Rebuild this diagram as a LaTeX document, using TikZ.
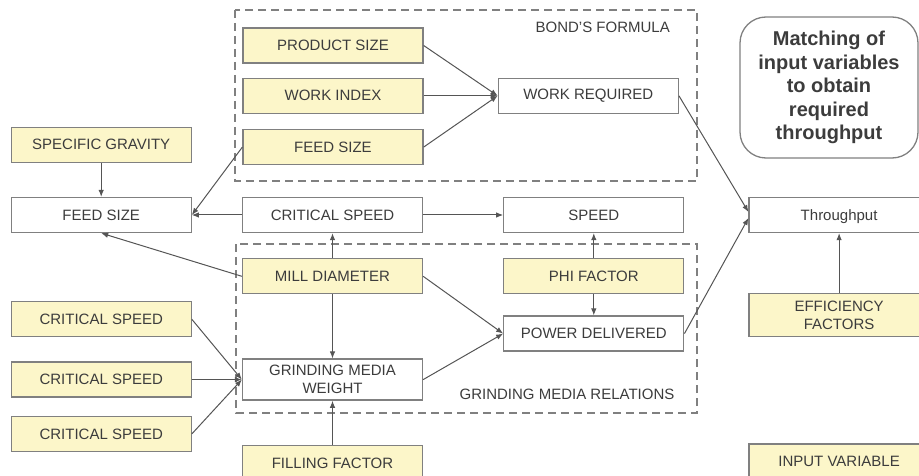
\documentclass[tikz,border=0pt]{standalone}
\usepackage{fontspec}
\setmainfont{Liberation Sans}
\usetikzlibrary{arrows.meta,positioning}
\definecolor{varfill}{RGB}{252,246,201}
\definecolor{boxline}{RGB}{128,128,128}
\definecolor{textgray}{RGB}{60,60,60}
\definecolor{linegray}{RGB}{85,85,85}
\tikzset{
    invar/.style={rectangle,draw=boxline,fill=varfill,line width=1.3pt,minimum width=180pt,minimum height=35pt,inner sep=0pt,align=center,text=textgray,font=\fontsize{15}{18}\selectfont},
    calc/.style={invar,fill=white},
    pre/.style={-{Latex[length=7pt,width=5.5pt]},line width=1pt,draw=linegray},
    frame/.style={draw=boxline,line width=1.2pt,dash pattern=on 8pt off 5pt},
    framelabel/.style={text=textgray,font=\fontsize{15}{18}\selectfont,inner sep=0pt}
}

\begin{document}
\begin{tikzpicture}[x=1pt,y=-1pt]
                \useasboundingbox (0,0) rectangle (919,476);

                % dashed groups
                \draw[frame] (235,10) rectangle (697,181);
                \draw[frame] (236,244) rectangle (697,413);
                \node[framelabel,anchor=east] (bondlbl) at (670,27) {BOND'S FORMULA};
                \node[framelabel] (gmrlbl) at (567,394) {GRINDING MEDIA RELATIONS};

                \node[invar]  (prod) at (333,45.5)              {PRODUCT SIZE};
                \node[invar]  (workidx) [below=14pt of prod]    {WORK INDEX};
                \node[invar]  (feedtop) [below=15pt of workidx] {FEED SIZE};
                \node[calc]   (workreq) [right=74pt of workidx] {WORK REQUIRED};

                \node[calc]   (critmid) at (332.5,215)             {CRITICAL SPEED};
                \node[calc]   (feedleft) [left=50pt of critmid]    {FEED SIZE};
                \node[invar]  (specgrav) [above=34pt of feedleft]  {SPECIFIC GRAVITY};
                \node[calc]   (speed) [right=80pt of critmid]      {SPEED};
                \node[calc,text depth=0pt] (thru) [right=64pt of speed] {Throughput};

                \node[invar]  (milld) [below=25pt of critmid] {MILL DIAMETER};
                \node[invar]  (phi) [below=25pt of speed]     {PHI FACTOR};
                \node[calc]   (power) [below=21pt of phi]     {POWER DELIVERED};
                \node[calc,minimum height=41pt] (gmw) [below=64pt of milld] {GRINDING MEDIA\\WEIGHT};
                \node[invar]  (filling) [below=44pt of gmw]   {FILLING FACTOR};

                \node[invar]  (crit2) [left=50pt of gmw]     {CRITICAL SPEED};
                \node[invar]  (crit1) [above=24pt of crit2]  {CRITICAL SPEED};
                \node[invar]  (crit3) [below=18pt of crit2]  {CRITICAL SPEED};

                \node[invar,minimum height=43pt] (eff) [below=60pt of thru] {EFFICIENCY\\FACTORS};
                \node[invar]  (inputvar) [below=106pt of eff] {INPUT VARIABLE};

                \node[draw=boxline,line width=1.3pt,rounded corners=26pt,minimum width=178pt,minimum height=141pt,
                      align=center,text=textgray,font=\fontsize{20}{23.5}\selectfont\bfseries] (matching) at (829,87.5)
                      {Matching of\\input variables\\to obtain\\required\\throughput};

                % connectors
                \foreach \n in {prod,workidx,feedtop}
                    \draw[pre] (\n.east) -- (workreq.west);
                \foreach \n in {crit1,crit2,crit3}
                    \draw[pre] (\n.east) -- (gmw.west);
                \draw[pre] (workreq.east) -- ([yshift=3pt]thru.west);
                \draw[pre] (power.east) -- ([yshift=-3pt]thru.west);
                \draw[pre] (feedtop.west) -- (feedleft.east);
                \draw[pre] (critmid.west) -- (feedleft.east);
                \draw[pre] (critmid.east) -- (speed.west);
                \draw[pre] (specgrav) -- (feedleft);
                \draw[pre] (milld) -- (critmid);
                \draw[pre] (milld.west) -- (feedleft.south);
                \draw[pre] (milld) -- (gmw);
                \draw[pre] (milld.east) -- (power.west);
                \draw[pre] (gmw.east) -- (power.west);
                \draw[pre] (phi) -- (speed);
                \draw[pre] (phi) -- (power);
                \draw[pre] (filling) -- (gmw);
                \draw[pre] (eff) -- (thru);

            \end{tikzpicture}
\end{document}
